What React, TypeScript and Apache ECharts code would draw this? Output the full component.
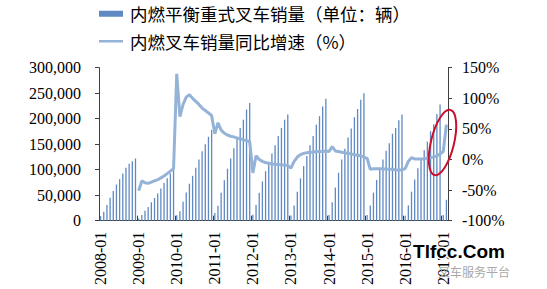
import React, { useEffect, useRef } from "react";
import * as echarts from "echarts";

// Months from 2008-01 to 2017-02
const years = [2008, 2009, 2010, 2011, 2012, 2013, 2014, 2015, 2016, 2017];
const categories: string[] = [];
years.forEach((y) => {
  const n = y === 2017 ? 2 : 12;
  for (let m = 1; m <= n; m++) categories.push(`${y}-${m < 10 ? "0" + m : m}`);
});

// Cumulative monthly sales (units)
const s2008 = [9000, 17600, 30600, 45000, 58000, 71000, 81500, 92600, 103700, 111500, 116800, 122000];
const s2009 = [4400, 11200, 19600, 27000, 36000, 44500, 53500, 63000, 74000, 83000, 92600, 102000];
const s2010 = [10600, 18500, 37000, 55500, 72500, 88000, 104000, 120000, 136000, 150000, 164500, 178000];
const s2011 = [15000, 29500, 55000, 79500, 102000, 122000, 142000, 161000, 182000, 198000, 218000, 231000];
const s2012 = [11700, 31000, 55000, 77000, 97000, 114000, 132000, 148000, 166000, 182000, 198000, 208000];
const s2013 = [10000, 30000, 57000, 83000, 107000, 127000, 148000, 166000, 188000, 205000, 224000, 239000];
const s2014 = [11300, 36000, 65000, 94000, 120000, 141000, 163000, 181000, 203000, 219000, 237000, 250000];
const s2015 = [11400, 30000, 55000, 80000, 102000, 120000, 137000, 152000, 170500, 182000, 197000, 208000];
const s2016 = [9800, 30000, 57000, 81000, 103000, 121000, 138000, 155000, 175600, 189000, 209000, 228000];
const s2017 = [11000, 41000];

// YoY growth (%)
const g2008 = [null, null, null, null, null, null, null, null, null, null, null, null];
const g2009 = [-51, -35, -38, -39, -37, -35, -33, -30, -27, -23, -19, -15];
const g2010 = [140, 70, 90, 102, 106, 100, 95, 90, 84, 80, 76, 72];
const g2011 = [42, 60, 48, 43, 40, 38, 37, 35, 34, 32, 31, 29];
const g2012 = [-22, 6, 0, -3, -5, -6, -7, -8, -8, -9, -9, -10];
const g2013 = [-14, -3, 4, 8, 10, 11, 12, 12, 13, 13, 13, 14];
const g2014 = [13, 21, 14, 13, 12, 11, 10, 9, 8, 7, 6, 4];
const g2015 = [2, -16, -15, -15, -15, -15, -16, -16, -16, -17, -17, -17];
const g2016 = [-15, -3, 3, 1, 1, 1, 1, 2, 3, 4, 6, 9];
const g2017 = [13, 57];

const sales = [...s2008, ...s2009, ...s2010, ...s2011, ...s2012, ...s2013, ...s2014, ...s2015, ...s2016, ...s2017];
const growth = [...g2008, ...g2009, ...g2010, ...g2011, ...g2012, ...g2013, ...g2014, ...g2015, ...g2016, ...g2017];

const barName = "内燃平衡重式叉车销量（单位：辆）";
const lineName = "内燃叉车销量同比增速（%）";

const serif = "'Liberation Serif', 'Times New Roman', serif";
const cjk = "'Noto Sans CJK SC', sans-serif";

export default function App() {
  const ref = useRef<HTMLDivElement>(null);
  useEffect(() => {
    if (!ref.current) return;
    const chart = echarts.init(ref.current, undefined, { renderer: "svg" });
    chart.setOption({
      animation: false,
      backgroundColor: "#ffffff",
      legend: {
        orient: "vertical",
        left: 94,
        top: 0,
        itemGap: 10,
        itemWidth: 24,
        itemHeight: 6,
        textStyle: { fontFamily: cjk, fontSize: 17.5, color: "#000", padding: [0, 0, 0, 2] },
        data: [
          { name: barName, icon: "rect" },
          { name: lineName, icon: "path://M0,0L48,0L48,5L0,5Z" },
        ],
      },
      grid: { left: 99, right: 99, top: 67.7, bottom: 68.3 },
      xAxis: {
        type: "category",
        data: categories,
        boundaryGap: true,
        axisLine: { lineStyle: { color: "#404040", width: 1 } },
        axisTick: { show: true, inside: true, length: 5, interval: 11, lineStyle: { color: "#404040" } },
        axisLabel: {
          interval: 11,
          rotate: 90,
          margin: 11,
          fontFamily: serif,
          fontSize: 16,
          color: "#000",
        },
        splitLine: { show: false },
      },
      yAxis: [
        {
          type: "value",
          min: 0,
          max: 300000,
          interval: 50000,
          axisLine: { show: true, lineStyle: { color: "#404040" } },
          axisTick: { show: true, length: 4, lineStyle: { color: "#404040" } },
          axisLabel: {
            margin: 18,
            fontFamily: serif,
            fontSize: 16,
            color: "#000",
            formatter: (v: number) => v.toLocaleString("en-US"),
          },
          splitLine: { show: false },
        },
        {
          type: "value",
          min: -100,
          max: 150,
          interval: 50,
          position: "right",
          axisLine: { show: true, lineStyle: { color: "#404040" } },
          axisTick: { show: true, length: 4, lineStyle: { color: "#404040" } },
          axisLabel: {
            margin: 14,
            fontFamily: serif,
            fontSize: 16,
            color: "#000",
            formatter: (v: number) => `${v}%`,
          },
          splitLine: { show: false },
        },
      ],
      series: [
        {
          name: barName,
          type: "bar",
          data: sales,
          barWidth: 1.3,
          itemStyle: { color: "#5f89c2" },
          yAxisIndex: 0,
        },
        {
          name: lineName,
          type: "line",
          data: growth,
          yAxisIndex: 1,
          symbol: "none",
          showSymbol: false,
          connectNulls: false,
          lineStyle: { color: "#95b3d7", width: 3 },
          itemStyle: { color: "#95b3d7" },
        },
      ],
      graphic: [
        {
          type: "ellipse",
          x: 442.5,
          y: 142.5,
          rotation: -0.24,
          shape: { cx: 0, cy: 0, rx: 11.5, ry: 33.5 },
          style: { fill: "none", stroke: "#c8102e", lineWidth: 2 },
          z: 100,
        },
        {
          type: "text",
          x: 474,
          y: 271,
          style: {
            text: "叉车服务平台",
            fontFamily: cjk,
            fontSize: 12,
            fill: "#a8a8a8",
            align: "center",
            verticalAlign: "middle",
          },
          z: 100,
        },
        {
          type: "text",
          x: 459,
          y: 251,
          style: {
            text: "Tlfcc.Com",
            fontFamily: "'Liberation Sans', Arial, sans-serif",
            fontWeight: "bold",
            fontSize: 19,
            fill: "#000",
            align: "center",
            verticalAlign: "middle",
            stroke: "#ffffff",
            lineWidth: 3,
          },
          z: 101,
        },
      ],
    });
    return () => chart.dispose();
  }, []);
  return (
    <div
      ref={ref}
      style={{ position: "fixed", left: 0, top: 0, width: 547, height: 289, background: "#fff" }}
    />
  );
}
